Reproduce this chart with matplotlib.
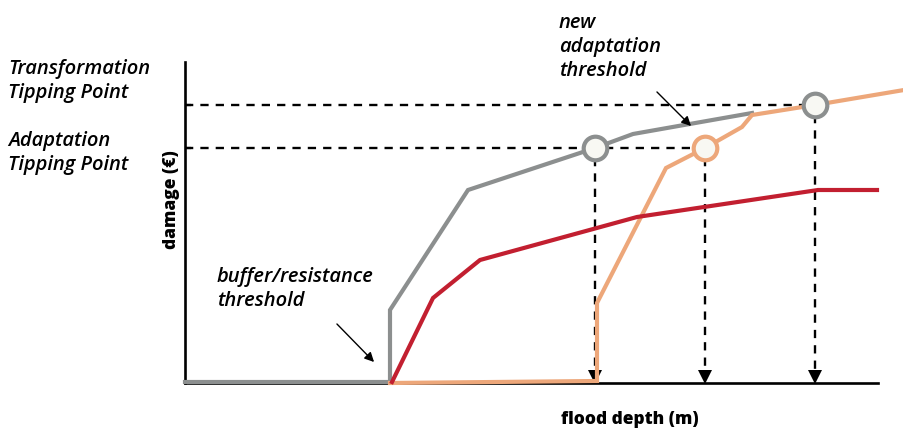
import matplotlib
matplotlib.use("Agg")
import matplotlib.pyplot as plt

# conceptual curves (x: flood depth, y: damage, arbitrary units)
gray_x = [0, 205, 205, 283, 410, 448, 567]
gray_y = [1, 1, 73, 193, 235, 249, 270]
orange_x = [205, 412, 412, 481, 520, 557, 567, 630, 719]
orange_y = [0, 2, 80, 215, 235, 256, 268, 278, 293]
red_x = [207, 248, 295, 452, 633, 692]
red_y = [1, 85, 123, 166, 193, 193]

atp = 235          # adaptation tipping point damage level
ttp = 278          # transformation tipping point damage level
circ_x = [410, 520, 630]
circ_y = [atp, atp, ttp]
circ_col = ["#8c8f8f", "#eda77a", "#8c8f8f"]

GRAY, ORANGE, RED = "#8c8f8f", "#eda77a", "#c21f30"
FONT = "Open Sans"

W, H = 904, 437
fig = plt.figure(figsize=(W / 100, H / 100), dpi=100)
ax = fig.add_axes([185 / W, (H - 383) / H, (W - 185) / W, (383 - 55) / H])
ax.set_xlim(0, 719)
ax.set_ylim(0, 328)

for s in ("top", "right"):
    ax.spines[s].set_visible(False)
ax.spines["left"].set_bounds(0, 321)
ax.spines["bottom"].set_bounds(0, 693)
for s in ("left", "bottom"):
    ax.spines[s].set_linewidth(1.9)
ax.set_xticks([])
ax.set_yticks([atp, ttp])
ax.set_yticklabels([])
ax.tick_params(axis="y", direction="in", length=4, width=1.6)

# dashed guide lines
dash = dict(color="k", lw=1.7, ls=(0, (3.5, 3)), zorder=1)
ax.plot([0, circ_x[2] - 10], [ttp, ttp], **dash)
ax.plot([0, circ_x[0] - 10], [atp, atp], **dash)
ax.plot([circ_x[0] + 10, circ_x[1] - 10], [atp, atp], **dash)
for cx, cy in zip(circ_x, circ_y):
    ax.plot([cx, cx], [cy - 10, 8], **dash)
    ax.plot(cx, 6, marker="v", ms=10, color="k", mew=0, zorder=2,
            clip_on=False)

ax.plot(gray_x, gray_y, color=GRAY, lw=3, zorder=3, clip_on=False,
        solid_joinstyle="miter")
ax.plot(orange_x, orange_y, color=ORANGE, lw=3, zorder=4, clip_on=False,
        solid_joinstyle="miter")
ax.plot(red_x, red_y, color=RED, lw=3, zorder=5, clip_on=False,
        solid_joinstyle="miter")

for cx, cy, c in zip(circ_x, circ_y, circ_col):
    ax.plot(cx, cy, marker="o", ms=17, mfc="#f8f8f3", mec=c, mew=3,
            zorder=6, clip_on=False)

arrow = dict(arrowstyle="-|>", color="k", lw=1.0, mutation_scale=14)
ax.annotate("", xy=(191, 19), xytext=(150, 61), arrowprops=arrow)
ax.annotate("", xy=(508, 255), xytext=(470, 293), arrowprops=arrow,
            annotation_clip=False)

txt = dict(family=FONT, style="italic", weight="semibold", fontsize=14.5,
           linespacing=1.3)
fig.text(8 / W, 1 - 81 / H, "Transformation\nTipping Point", va="center",
         ha="left", **txt)
fig.text(8 / W, 1 - 153 / H, "Adaptation\nTipping Point", va="center",
         ha="left", **txt)
fig.text(217 / W, 1 - 289 / H, "buffer/resistance\nthreshold", va="center",
         ha="left", **txt)
fig.text(559 / W, 1 - 47 / H, "new\nadaptation\nthreshold", va="center",
         ha="left", **txt)

lab = dict(family=FONT, weight="heavy", fontsize=12.5)
fig.text(172 / W, 1 - 200 / H, "damage (€)", rotation=90, va="center",
         ha="center", **lab)
fig.text(630 / W, 1 - 420 / H, "flood depth (m)", va="center", ha="center",
         **lab)

fig.savefig("out.png", dpi=100)
